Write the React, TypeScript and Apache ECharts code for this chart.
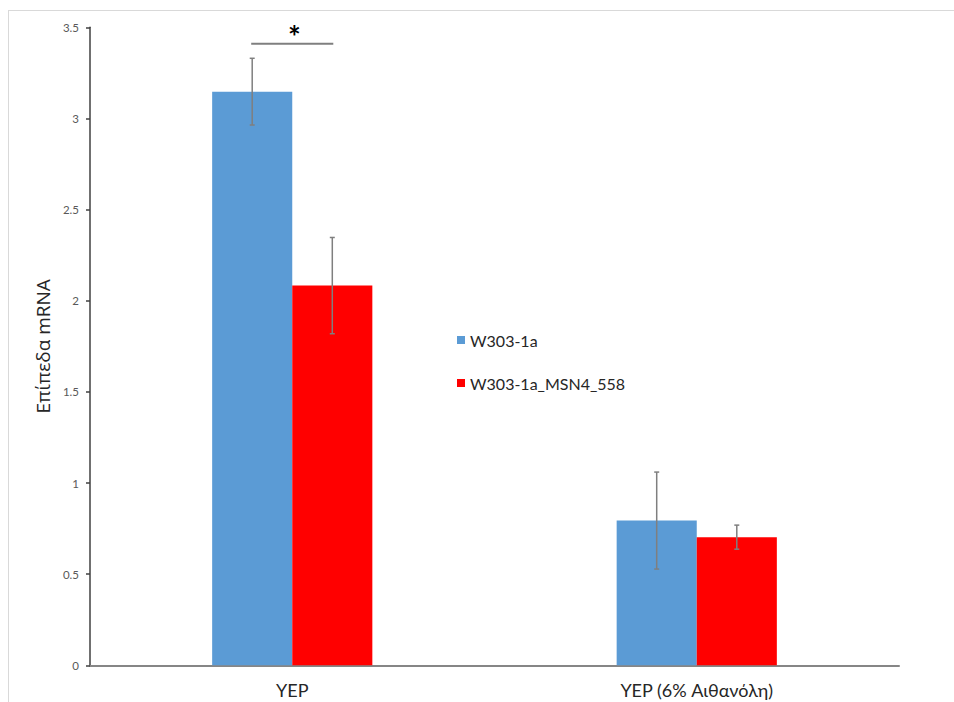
import React, { useEffect, useRef } from "react";
import * as echarts from "echarts";

const categories = ["YEP", "YEP (6% Αιθανόλη)"];
const seriesNames = ["W303-1a", "W303-1a_MSN4_558"];
const wildType = [3.147, 0.794];
const wildTypeErr = [0.183, 0.266];
const mutant = [2.083, 0.703];
const mutantErr = [0.264, 0.066];
const yTicks = { min: 0, max: 3.5, interval: 0.5 };
const significance = [[0, 3.41]];

const FONT = "Lato, 'Noto Sans', sans-serif";
const BAR_FRAC = 0.198;

function errData(vals: number[], errs: number[]) {
  return vals.map((v, i) => [i, v - errs[i], v + errs[i]]);
}

function errRender(sign: number) {
  return (params: any, api: any) => {
    const cat = api.value(0);
    const lo = api.value(1);
    const hi = api.value(2);
    const band = api.size([1, 0])[0];
    const x = api.coord([cat, 0])[0] + sign * band * BAR_FRAC / 2;
    const yTop = api.coord([cat, hi])[1];
    const yBot = api.coord([cat, lo])[1];
    const style = { stroke: "#7f7f7f", lineWidth: 1.5 };
    const cap = 2.5;
    return {
      type: "group",
      children: [
        { type: "line", shape: { x1: x, y1: yTop, x2: x, y2: yBot }, style },
        { type: "line", shape: { x1: x - cap, y1: yTop, x2: x + cap, y2: yTop }, style },
        { type: "line", shape: { x1: x - cap, y1: yBot, x2: x + cap, y2: yBot }, style },
      ],
    };
  };
}

export default function App() {
  const ref = useRef<HTMLDivElement>(null);
  useEffect(() => {
    if (!ref.current) return;
    const chart = echarts.init(ref.current, undefined, { renderer: "svg" });
    chart.setOption({
      animation: false,
      backgroundColor: "#ffffff",
      textStyle: { fontFamily: FONT },
      grid: { left: 90, top: 27.3, width: 809, bottom: 36.7, containLabel: false },
      legend: {
        data: seriesNames,
        orient: "vertical",
        left: 452,
        top: 327,
        itemWidth: 8,
        itemHeight: 8,
        itemGap: 27,
        icon: "rect",
        textStyle: { fontSize: 16, color: "#262626", fontFamily: FONT },
      },
      xAxis: {
        type: "category",
        data: categories,
        axisTick: { show: false },
        axisLine: { lineStyle: { color: "#868686", width: 2 } },
        axisLabel: { fontSize: 18, color: "#262626", margin: 16, fontFamily: FONT },
      },
      yAxis: {
        type: "value",
        min: yTicks.min,
        max: yTicks.max,
        interval: yTicks.interval,
        name: "Επίπεδα mRNA",
        nameLocation: "middle",
        nameRotate: 90,
        nameGap: 36,
        nameTextStyle: { fontSize: 19, color: "#262626", fontFamily: "'Open Sans', 'Noto Sans', sans-serif" },
        splitLine: { show: false },
        axisLine: { show: true, lineStyle: { color: "#404040", width: 1.5 } },
        axisTick: { show: true, length: 4, lineStyle: { color: "#404040", width: 1.5 } },
        axisLabel: { fontSize: 11.5, color: "#595959", margin: 11, fontFamily: FONT },
      },
      series: [
        {
          name: seriesNames[0],
          type: "bar",
          data: wildType,
          barWidth: BAR_FRAC * 100 + "%",
          barGap: "0%",
          itemStyle: { color: "#5b9bd5" },
        },
        {
          name: seriesNames[1],
          type: "bar",
          data: mutant,
          barWidth: BAR_FRAC * 100 + "%",
          barGap: "0%",
          itemStyle: { color: "#ff0000" },
        },
        {
          type: "custom",
          name: "err0",
          data: errData(wildType, wildTypeErr),
          encode: { x: 0, y: [1, 2] },
          renderItem: errRender(-1),
          z: 5,
        },
        {
          type: "custom",
          name: "err1",
          data: errData(mutant, mutantErr),
          encode: { x: 0, y: [1, 2] },
          renderItem: errRender(1),
          z: 5,
        },
        {
          type: "custom",
          name: "sig",
          data: significance,
          encode: { x: 0, y: 1 },
          renderItem: (params: any, api: any) => {
            const cat = api.value(0);
            const band = api.size([1, 0])[0];
            const c = api.coord([cat, api.value(1)]);
            const half = band * BAR_FRAC / 2 + 1;
            return {
              type: "group",
              children: [
                {
                  type: "line",
                  shape: { x1: c[0] - half, y1: c[1], x2: c[0] + half, y2: c[1] },
                  style: { stroke: "#7f7f7f", lineWidth: 2 },
                },
                {
                  type: "text",
                  x: c[0] + 2,
                  y: c[1] - 8,
                  style: {
                    text: "*",
                    fontSize: 30,
                    fontWeight: "bold",
                    fontFamily: FONT,
                    fill: "#000000",
                    align: "center",
                    verticalAlign: "middle",
                  },
                },
              ],
            };
          },
          z: 5,
        },
      ],
      graphic: [
        { type: "line", shape: { x1: 8, y1: 10.5, x2: 954, y2: 10.5 }, style: { stroke: "#d9d9d9", lineWidth: 1 } },
        { type: "line", shape: { x1: 8.5, y1: 10, x2: 8.5, y2: 702 }, style: { stroke: "#d9d9d9", lineWidth: 1 } },
      ],
    });
    return () => chart.dispose();
  }, []);
  return (
    <div
      ref={ref}
      style={{ position: "fixed", left: 0, top: 0, width: 954, height: 702 }}
    />
  );
}
